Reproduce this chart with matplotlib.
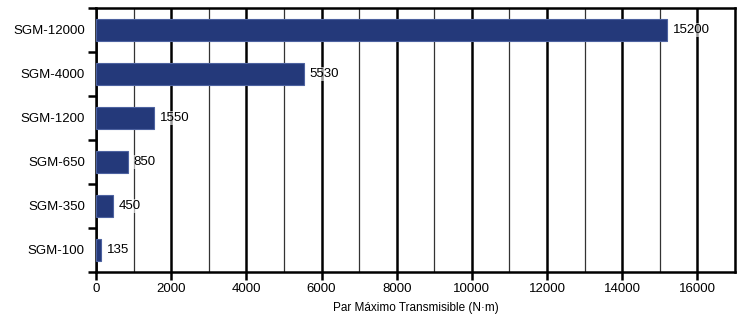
import numpy as np
import matplotlib.pyplot as plt
from matplotlib.ticker import MultipleLocator

plt.rcParams['font.family'] = ['Liberation Sans', 'DejaVu Sans']

# Dati
modelli = ["SGM-100", "SGM-350", "SGM-650", "SGM-1200", "SGM-4000", "SGM-12000"]
coppia = [135, 450, 850, 1550, 5530, 15200]

fig = plt.figure(figsize=(7.5, 3.2), dpi=100)
ax = fig.add_axes([96/750, 48/320, 639/750, 264/320])

y = np.arange(len(modelli))
ax.barh(y, coppia, height=0.5, color="#24397a", edgecolor="#4d62a0", linewidth=0.8, zorder=3)

for yi, v in zip(y, coppia):
    ax.text(v + 150, yi, f"{v}", va="center", ha="left", fontsize=9.5, zorder=4,
            bbox=dict(facecolor="white", edgecolor="none", alpha=0.6, pad=0.5))

ax.set_xlim(0, 17000)
ax.set_ylim(-0.5, len(modelli) - 0.5)

# griglia: maggiore ogni 2000, minore ogni 1000
ax.xaxis.set_major_locator(MultipleLocator(2000))
ax.xaxis.set_minor_locator(MultipleLocator(1000))
ax.grid(which="major", axis="x", color="black", linewidth=1.8, zorder=1)
ax.grid(which="minor", axis="x", color="#333333", linewidth=0.9, zorder=1)

# etichette categorie tra i tick ai confini
ax.set_yticks(np.arange(len(modelli) + 1) - 0.5)
ax.set_yticklabels([])
ax.set_yticks(y, minor=True)
ax.set_yticklabels(modelli, minor=True, fontsize=9.5)
ax.tick_params(axis="y", which="minor", length=0, pad=8)
ax.tick_params(axis="y", which="major", length=6, width=1.8, direction="out")
ax.tick_params(axis="x", which="major", length=6, width=1.8, direction="out", labelsize=9.5, pad=2)
ax.tick_params(axis="x", which="minor", length=0)

for s in ax.spines.values():
    s.set_linewidth(1.8)
    s.set_color("black")

ax.set_xlabel("Par Máximo Transmisible (N·m)", fontsize=8.5, labelpad=5)

fig.savefig("out.png", dpi=100)
